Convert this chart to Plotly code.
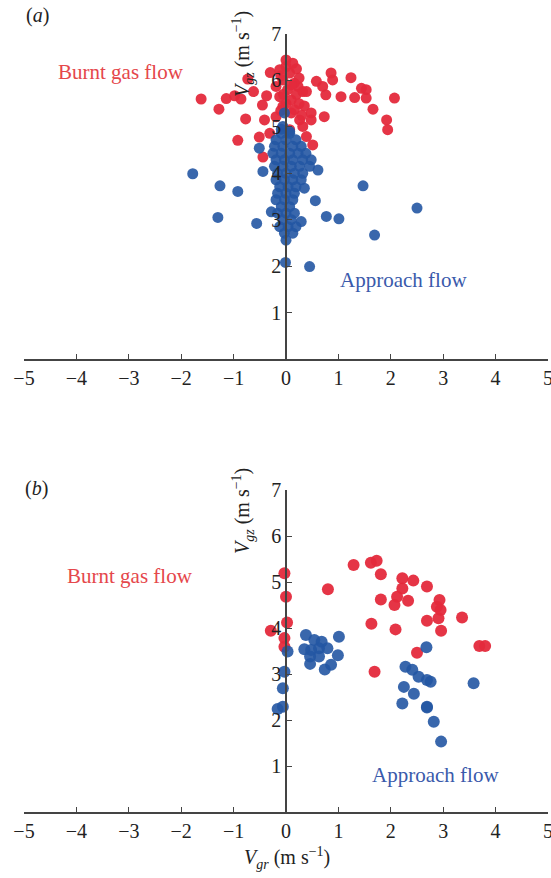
import plotly.graph_objects as go

# ---------------- data: panel (a) ----------------
a_burnt_x = [-1.62, -1.28, -1.14, -0.98, -0.86, -0.73, -0.62, -0.77, -0.92, -0.45, -0.37, -0.30, -0.51, -0.41, -0.44,
             0.00, 0.13, -0.12, 0.07, -0.06, 0.16, -0.19, 0.03, 0.23, -0.12, 0.10, 0.32, 0.39, -0.06, 0.16, -0.19,
             0.26, 0.07, 0.32, 0.48, 0.48, 0.39, 0.51, -0.31,
             0.00, 0.20, -0.10, 0.25, 0.10, -0.05, 0.20, 0.00, 0.25, 0.10, -0.10, 0.35, 0.30,
             0.58, 0.70, 0.86, 0.89, 0.76, 1.05, 1.24, 1.31, 1.44, 1.53, 1.53, 1.66, 1.92, 1.94, 2.07, 0.73]
a_burnt_y = [5.60, 5.38, 5.61, 5.67, 5.60, 6.03, 5.76, 5.17, 4.71, 5.47, 5.67, 6.17, 4.78, 5.15, 4.35,
             6.44, 6.37, 6.23, 6.16, 6.01, 5.94, 5.87, 5.80, 5.87, 5.65, 5.58, 5.76, 5.76, 5.44, 5.37, 5.22,
             5.15, 4.94, 5.01, 5.30, 5.15, 4.79, 4.61, 4.86,
             6.30, 6.25, 6.10, 6.05, 5.90, 5.70, 5.70, 5.50, 5.50, 5.30, 5.35, 5.45, 5.25,
             5.98, 5.87, 6.16, 6.01, 5.69, 5.65, 6.06, 5.63, 5.83, 5.80, 5.62, 5.38, 5.15, 4.94, 5.62, 5.22]

a_approach_x = [-1.78, -1.26, -0.92, -1.30, -0.56, -0.28, 1.47, 0.56, 0.77, 1.01, 1.69, 0.29, 0.35, 0.61,
                -0.01, 0.45, -0.51, -0.44, 2.50, -0.03,
                -0.06, -0.09, 0.07,
                -0.09, 0.07, -0.19, 0.00, 0.19, -0.22, -0.06, 0.13, 0.29,
                -0.25, -0.09, 0.07, 0.23, 0.38, -0.19, -0.03, 0.13, 0.32, 0.48,
                -0.22, -0.06, 0.10, 0.26, 0.45,
                -0.16, 0.00, 0.16, 0.32, -0.19, -0.03, 0.13, 0.29,
                -0.12, 0.04, 0.19, -0.16, 0.00, 0.16, -0.19, -0.03, 0.13,
                -0.09, 0.07, -0.16, 0.00, 0.16, -0.06, 0.10, -0.12, 0.04, 0.19, -0.03, 0.13, 0.00]
a_approach_y = [3.99, 3.73, 3.61, 3.05, 2.92, 3.17, 3.73, 3.41, 3.07, 3.02, 2.67, 2.96, 3.68, 4.07,
                2.08, 1.99, 4.54, 4.04, 3.25, 5.30,
                5.01, 4.95, 4.90,
                4.86, 4.86, 4.72, 4.72, 4.72, 4.58, 4.58, 4.58, 4.58,
                4.43, 4.43, 4.43, 4.43, 4.43, 4.29, 4.29, 4.29, 4.29, 4.29,
                4.15, 4.15, 4.15, 4.15, 4.15,
                4.00, 4.00, 4.00, 4.00, 3.86, 3.86, 3.86, 3.86,
                3.71, 3.71, 3.71, 3.57, 3.57, 3.57, 3.43, 3.43, 3.43,
                3.28, 3.28, 3.14, 3.14, 3.14, 3.00, 3.00, 2.85, 2.85, 2.85, 2.71, 2.71, 2.56]

# ---------------- data: panel (b) ----------------
b_burnt_x = [-0.03, 0.00, 0.02, -0.29, -0.03, -0.03, 0.80, 1.29, 1.62, 1.73, 1.81, 2.22, 2.43, 2.22, 2.69,
             1.81, 2.12, 2.07, 2.33, 2.93, 2.88, 2.95, 2.91, 2.69, 3.36, 2.96, 1.63, 2.09, 2.50, 3.69, 3.80, 1.69]
b_burnt_y = [5.19, 4.68, 4.12, 3.94, 3.78, 3.59, 4.84, 5.37, 5.42, 5.46, 5.17, 5.08, 5.03, 4.86, 4.90,
             4.62, 4.68, 4.50, 4.59, 4.61, 4.46, 4.39, 4.21, 4.16, 4.23, 3.94, 4.09, 3.97, 3.46, 3.61, 3.61, 3.05]

b_approach_x = [0.38, 0.54, 0.68, 0.35, 0.48, 0.63, 0.79, 1.01, 0.99, 0.46, 0.63, 0.46, 0.74, 0.86,
                0.03, -0.03, -0.06, -0.06, -0.16,
                2.68, 2.28, 2.41, 2.53, 2.69, 2.76, 2.25, 2.44, 2.22, 2.69, 3.58, 2.69, 2.82, 2.96]
b_approach_y = [3.85, 3.74, 3.70, 3.54, 3.52, 3.56, 3.56, 3.81, 3.41, 3.38, 3.38, 3.22, 3.10, 3.20,
                3.49, 3.05, 2.69, 2.29, 2.24,
                3.58, 3.16, 3.09, 2.94, 2.87, 2.83, 2.72, 2.57, 2.36, 2.29, 2.80, 2.27, 1.96, 1.53]

x_ticks = [-5, -4, -3, -2, -1, 0, 1, 2, 3, 4, 5]
y_ticks = [1, 2, 3, 4, 5, 6, 7]

RED = "#e42a3c"
BLUE = "#2456a3"
TXT_RED = "#e5474b"
TXT_BLUE = "#3a5aab"
FONT = "Liberation Serif"

W, H = 551, 878
# pixel layout
x_left, x_right = 24, 548
a_y0, a_y7 = 359, 34
b_y0, b_y7 = 812, 490

fig = go.Figure()
fig.add_trace(go.Scatter(x=a_burnt_x, y=a_burnt_y, mode="markers", xaxis="x", yaxis="y",
                         marker=dict(size=11, color=RED, opacity=0.95), showlegend=False))
fig.add_trace(go.Scatter(x=a_approach_x, y=a_approach_y, mode="markers", xaxis="x", yaxis="y",
                         marker=dict(size=11, color=BLUE, opacity=0.9), showlegend=False))
fig.add_trace(go.Scatter(x=b_burnt_x, y=b_burnt_y, mode="markers", xaxis="x2", yaxis="y2",
                         marker=dict(size=12, color=RED, opacity=0.95), showlegend=False))
fig.add_trace(go.Scatter(x=b_approach_x, y=b_approach_y, mode="markers", xaxis="x2", yaxis="y2",
                         marker=dict(size=12, color=BLUE, opacity=0.9), showlegend=False))

xdom = [x_left / W, x_right / W]
ypos = ((x_left + x_right) / 2) / W

common_x = dict(range=[-5, 5], tickvals=x_ticks, showgrid=False, zeroline=False, showline=True,
                linecolor="#444", linewidth=1.5, ticks="inside", ticklen=5, tickcolor="#444",
                ticklabeloverflow="allow",
                tickfont=dict(family=FONT, size=20, color="#222"), domain=xdom)
common_y = dict(range=[0, 7], tickvals=y_ticks, showgrid=False, zeroline=False, showline=True,
                linecolor="#444", linewidth=1.5, ticks="inside", ticklen=5, tickcolor="#444",
                ticklabeloverflow="allow",
                tickfont=dict(family=FONT, size=20, color="#222"), anchor="free", position=ypos)

fig.update_layout(
    width=W, height=H, margin=dict(l=0, r=0, t=0, b=0),
    paper_bgcolor="white", plot_bgcolor="rgba(0,0,0,0)",
    xaxis=dict(common_x, anchor="y", automargin=False),
    yaxis=dict(common_y, domain=[1 - a_y0 / H, 1 - a_y7 / H], automargin=False),
    xaxis2=dict(common_x, anchor="y2", automargin=False),
    yaxis2=dict(common_y, domain=[1 - b_y0 / H, 1 - b_y7 / H], automargin=False),
)

def ann(text, px, py, size=20, color="#222", angle=0):
    fig.add_annotation(text=text, x=px / W, y=1 - py / H, xref="paper", yref="paper",
                       showarrow=False, textangle=angle, xanchor="center", yanchor="middle",
                       font=dict(family=FONT, size=size, color=color))

ann("(<i>a</i>)", 37, 16, 20)
ann("(<i>b</i>)", 36, 488, 20)
ann("Burnt gas flow", 121, 72, 21, TXT_RED)
ann("Burnt gas flow", 130, 576, 21, TXT_RED)
ann("Approach flow", 403, 280, 21, TXT_BLUE)
ann("Approach flow", 435, 775, 21, TXT_BLUE)
ytitle = "<i>V<sub>gz</sub></i> (m s<sup>−1</sup>)"
ann(ytitle, 243, 54, 20, angle=-90)
ann(ytitle, 243, 511, 20, angle=-90)
ann("<i>V<sub>gr</sub></i> (m s<sup>−1</sup>)", 287, 858, 20)

fig.write_html("out.html")
